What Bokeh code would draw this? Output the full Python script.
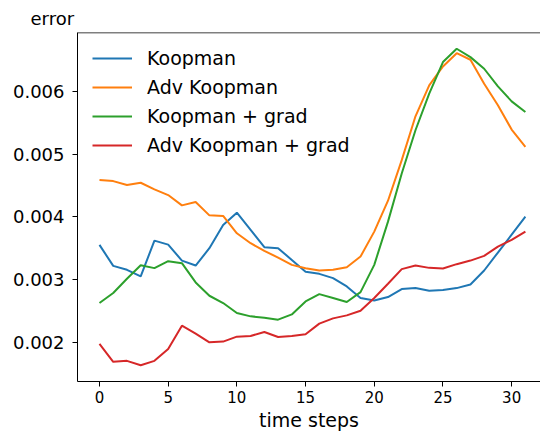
from bokeh.plotting import figure
from bokeh.models import (ColumnDataSource, FixedTicker, Legend, Span, Title,
                          LegendItem, Range1d, NumeralTickFormatter)
from bokeh.embed import file_html
from bokeh.resources import INLINE

steps = list(range(32))

koopman = [0.003556, 0.003222, 0.003159, 0.003053, 0.003624, 0.00356, 0.003306, 0.003227,
           0.003503, 0.003873, 0.004069, 0.003794, 0.003519, 0.003503, 0.003317, 0.003127,
           0.003095, 0.003027, 0.002894, 0.00271, 0.002672, 0.002725, 0.002852, 0.002868,
           0.002825, 0.002836, 0.002868, 0.002926, 0.003148, 0.003434, 0.003719, 0.004005]

adv_koopman = [0.004587, 0.004571, 0.004508, 0.004545, 0.00444, 0.004349, 0.004185, 0.004238,
               0.004026, 0.004016, 0.003741, 0.003582, 0.00346, 0.003354, 0.003238, 0.003185,
               0.003148, 0.003159, 0.003201, 0.00337, 0.003767, 0.004259, 0.004905, 0.005603,
               0.006095, 0.006397, 0.006608, 0.006503, 0.006122, 0.005778, 0.005392, 0.005116]

koopman_grad = [0.00263, 0.002789, 0.003016, 0.003233, 0.003186, 0.003297, 0.003265, 0.002958,
                0.002746, 0.00263, 0.002471, 0.002418, 0.002397, 0.002365, 0.002449, 0.002656,
                0.002772, 0.00271, 0.002646, 0.002804, 0.003238, 0.003926, 0.004693, 0.005381,
                0.005963, 0.006466, 0.006678, 0.006545, 0.00636, 0.006079, 0.005841, 0.005671]

adv_koopman_grad = [0.00198, 0.001694, 0.00171, 0.00164, 0.00171, 0.0019, 0.00227, 0.002143,
                    0.002005, 0.002016, 0.002095, 0.002106, 0.00217, 0.00209, 0.002106, 0.002132,
                    0.002302, 0.002386, 0.002434, 0.002508, 0.00271, 0.002937, 0.00317, 0.003227,
                    0.00319, 0.00318, 0.003249, 0.003306, 0.003381, 0.003529, 0.003635, 0.003767]

series_names = ["Koopman", "Adv Koopman", "Koopman + grad", "Adv Koopman + grad"]
series_values = [koopman, adv_koopman, koopman_grad, adv_koopman_grad]
colors = ["#1f77b4", "#ff7f0e", "#2ca02c", "#d62728"]

x_ticks = [0, 5, 10, 15, 20, 25, 30]
y_ticks = [0.002, 0.003, 0.004, 0.005, 0.006]
y_label = "error"

y_lo, y_hi = 0.001381, 0.006937

p = figure(width=540, height=433, output_backend="svg", toolbar_location=None,
           x_range=Range1d(-1.60, 32.1), y_range=Range1d(y_lo, y_hi),
           min_border_left=77, min_border_right=0, min_border_top=32, min_border_bottom=51)
p.background_fill_color = "white"
p.border_fill_color = "white"
p.outline_line_color = None
p.xgrid.visible = False
p.ygrid.visible = False

renderers = []
for name, vals, c in zip(series_names, series_values, colors):
    src = ColumnDataSource(dict(x=steps, y=vals))
    r = p.line("x", "y", source=src, line_color=c, line_width=2)
    renderers.append((name, r))

# axes styling
xa = p.xaxis[0]
xa.ticker = FixedTicker(ticks=x_ticks)
xa.minor_tick_line_color = None
xa.major_tick_out = 5
xa.major_tick_in = 0
xa.major_label_standoff = 4
xa.major_label_text_font = "DejaVu Sans"
xa.major_label_text_font_size = "15px"
xa.major_label_text_color = "black"
xa.axis_line_color = "black"
xa.major_tick_line_color = "black"
xa.axis_label = "time steps"
xa.axis_label_text_font = "DejaVu Sans"
xa.axis_label_text_font_size = "19px"
xa.axis_label_text_font_style = "normal"
xa.axis_label_text_color = "black"
xa.axis_label_standoff = 3

ya = p.yaxis[0]
ya.ticker = FixedTicker(ticks=y_ticks)
ya.formatter = NumeralTickFormatter(format="0.000")
ya.minor_tick_line_color = None
ya.major_tick_out = 5
ya.major_tick_in = 0
ya.major_label_standoff = 8
ya.major_label_text_font = "DejaVu Sans"
ya.major_label_text_font_size = "18px"
ya.major_label_text_color = "black"
ya.axis_line_color = "black"
ya.major_tick_line_color = "black"

# top spine
p.add_layout(Span(location=y_hi, dimension="width", line_color="black", line_width=1.5))

legend = Legend(items=[LegendItem(label=n, renderers=[r]) for n, r in renderers],
                location="top_left", border_line_color=None, background_fill_alpha=0,
                label_text_font="DejaVu Sans", label_text_font_size="19px",
                label_text_color="black", glyph_width=40, glyph_height=22,
                label_height=22, spacing=7, padding=10, margin=15, label_standoff=15)
p.add_layout(legend)

# "error" label above the y axis
p.title = Title(text=y_label, align="left", offset=-47, standoff=7,
                text_font="DejaVu Sans", text_font_size="18px", text_font_style="normal",
                text_color="black")

open("out.html", "w").write(file_html(p, INLINE))
